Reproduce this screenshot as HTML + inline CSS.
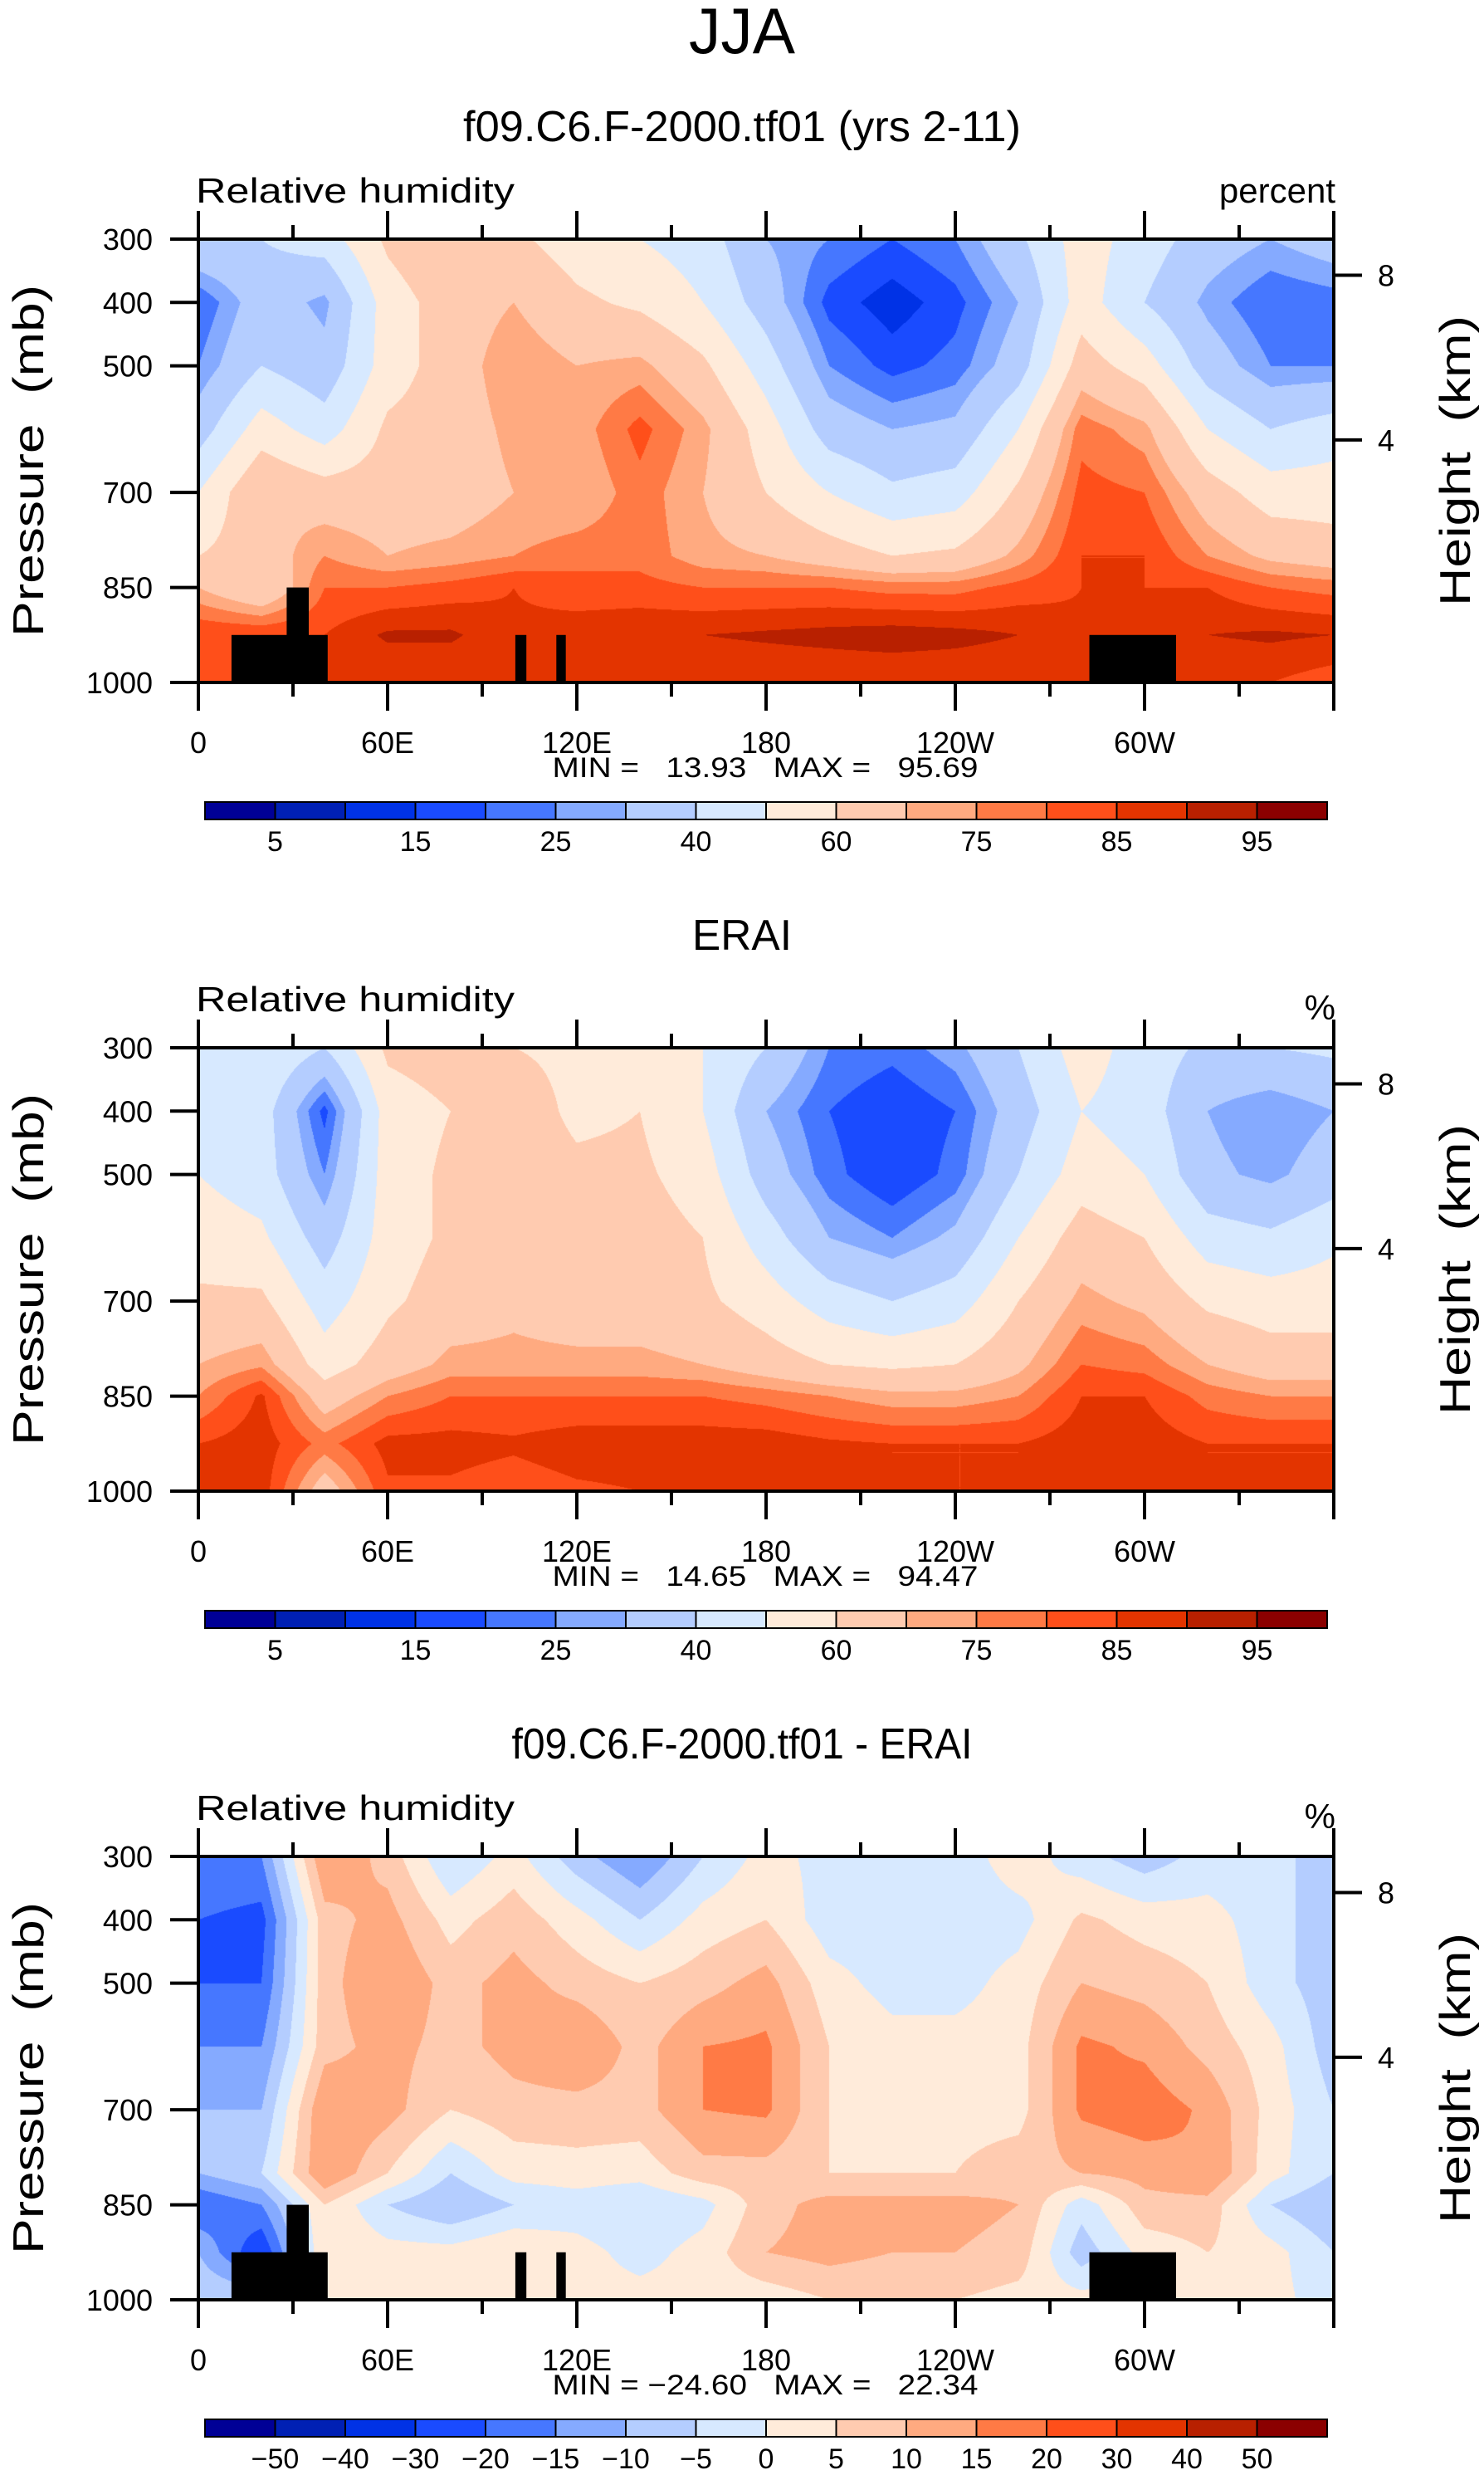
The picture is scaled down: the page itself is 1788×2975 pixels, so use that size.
<!DOCTYPE html>
<html><head><meta charset="utf-8">
<style>
html,body{margin:0;padding:0;background:#fff;}
#wrap{position:relative;width:1788px;height:2975px;overflow:hidden;background:#fff;}
canvas{position:absolute;}
svg{position:absolute;left:0;top:0;}
text{font-family:"Liberation Sans",sans-serif;fill:#000;white-space:pre;}
</style></head>
<body>
<div id="wrap">
<canvas id="c0"></canvas>
<canvas id="c1"></canvas>
<canvas id="c2"></canvas>
<svg id="svg" width="1788" height="2975" xmlns="http://www.w3.org/2000/svg">
<text x="894" y="64" font-size="78" text-anchor="middle" textLength="128" lengthAdjust="spacingAndGlyphs">JJA</text>
</svg>
</div>
<script>
// ---- data ----
const lons=[0,20,40,60,80,100,120,140,160,180,200,220,240,260,280,300,320,340,360];
const pLevels=[300,400,500,600,700,800,850,925,1000];
const rhLevels=[5,10,15,20,25,30,40,50,60,70,75,80,85,90,95];
const diffLevels=[-50,-40,-30,-20,-15,-10,-5,0,5,10,15,20,30,40,50];
const rhLabels=["5","","15","","25","","40","","60","","75","","85","","95"];
const diffLabels=["\u221250","\u221240","\u221230","\u221220","\u221215","\u221210","\u22125","0","5","10","15","20","30","40","50"];
const lonTickLabels=["0","60E","120E","180","120W","60W"];
const lonTickValues=[0,60,120,180,240,300];
const presTickValues=[300,400,500,700,850,1000];
const heightTickValues=[8,4];
const heightTickPres=[357,617];
const modelCols=[
[40,20,25,35,50,60,70,85,80],
[40,35,40,55,70,65,60,85,85],
[45,28,33,45,65,75,80,85,85],
[62,55,55,62,65,70,80,91,85],
[70,65,65,65,65,72,82,91,85],
[62,70,75,72,70,75,85,86,85],
[55,62,70,72,70,78,82,88,85],
[50,58,72,82,78,78,82,89,85],
[45,50,62,72,70,72,80,90,85],
[30,35,45,55,60,70,80,91,85],
[25,18,25,35,50,65,80,92,85],
[20,12,18,30,42,60,78,93,85],
[25,18,22,32,45,62,78,92,85],
[38,30,35,50,62,72,82,90,85],
[55,55,65,78,82,85,85,86,85],
[45,40,55,72,80,85,85,86,85],
[35,28,35,50,65,75,85,90,85],
[30,20,25,40,55,68,80,91,85],
[35,22,25,45,55,65,78,90,82]];
const eraiCols=[
[50,45,50,55,62,70,75,85,85],
[50,45,45,52,62,74,86,88,88],
[40,18,25,35,45,55,65,78,65],
[62,55,55,55,58,65,75,87,84],
[65,60,62,62,65,72,80,87,84],
[60,65,65,65,68,72,80,86,82],
[58,58,62,62,65,72,80,88,84],
[55,60,62,65,65,72,80,88,85],
[50,50,55,60,62,70,80,88,85],
[40,30,35,45,55,65,78,88,85],
[25,20,22,30,45,60,75,86,85],
[22,15,15,25,40,58,72,85,85],
[28,20,22,32,45,60,72,85,85],
[40,35,40,50,60,68,75,85,85],
[55,50,55,65,72,80,85,88,86],
[45,45,50,60,68,78,85,88,88],
[38,30,32,45,58,70,78,85,85],
[40,25,28,42,55,65,75,85,85],
[42,30,35,48,55,65,75,85,85]];
const diffCols=[
[-15,-20,-20,-15,-10,-10,-20,-10,-5],
[-15,-22,-20,-15,-10,-5,-15,-25,-5],
[15,8,8,8,15,15,5,5,5],
[8,12,15,12,12,5,-5,2,2],
[-5,3,8,8,5,-5,-10,2,2],
[2,8,12,12,8,2,-5,5,5],
[-8,2,8,15,8,3,-3,2,2],
[-15,-5,5,8,8,2,-5,-2,2],
[-5,2,8,15,15,8,-2,2,2],
[2,5,12,16,16,8,8,10,2],
[-2,-3,2,5,5,5,12,12,5],
[-3,-3,-2,2,3,5,12,10,5],
[-3,-3,-2,2,3,5,12,10,5],
[3,-2,2,3,3,8,10,8,3],
[-3,6,10,16,16,10,-3,-8,2],
[-8,3,8,14,18,12,8,2,2],
[-3,2,5,8,14,15,8,5,3],
[-3,-3,-3,2,3,2,-5,2,2],
[-8,-8,-8,-8,-5,-5,-10,-5,-3]];
const landLon0=[10.5,28,100.5,113.5,282.5];
const landLon1=[41,35,104,116.5,310];
const landTop=[925,850,925,925,925];
const colors=["#000096","#0020b4","#0032e6","#1a4bff","#4677ff","#85aaff","#b4cdff","#d7e9ff","#ffebda","#ffcbb0","#ffaa80","#ff7a45","#ff4f1a","#e33400","#b82000","#8b0000"];

// ---- layout ----
const PX=239, PW=1368, PH=534;
const panelTop=[288,1262,2236];
const titles=["f09.C6.F-2000.tf01 (yrs 2-11)","ERAI","f09.C6.F-2000.tf01 - ERAI"];
const titleLen=[672,120,555];
const units=["percent","%","%"];
const minmax=["MIN =   13.93   MAX =   95.69","MIN =   14.65   MAX =   94.47","MIN = \u221224.60   MAX =   22.34"];
const xLon=l=>PX+l/360*PW;
const yP=(p,t)=>t+(p-300)/700*PH;

function hexToRgb(h){return [parseInt(h.substr(1,2),16),parseInt(h.substr(3,2),16),parseInt(h.substr(5,2),16)];}
const rgb=colors.map(hexToRgb);

function drawField(id,cols,levels,top){
  const cv=document.getElementById(id);
  cv.width=PW;cv.height=PH;cv.style.left=PX+"px";cv.style.top=top+"px";
  const ctx=cv.getContext('2d');const img=ctx.createImageData(PW,PH);const d=img.data;
  const rowIdx=[],rowF=[];
  for(let y=0;y<PH;y++){
    const p=300+(y+0.5)/PH*700;let k=0;
    while(k<pLevels.length-2&&p>pLevels[k+1])k++;
    rowIdx.push(k);rowF.push((p-pLevels[k])/(pLevels[k+1]-pLevels[k]));
  }
  for(let x=0;x<PW;x++){
    const lon=(x+0.5)/PW*360;let i=Math.min(Math.floor(lon/20),lons.length-2);
    const fx=(lon-lons[i])/(lons[i+1]-lons[i]);
    const a=cols[i],b=cols[i+1];
    for(let y=0;y<PH;y++){
      const k=rowIdx[y],fy=rowF[y];
      const v=(a[k]*(1-fx)+b[k]*fx)*(1-fy)+(a[k+1]*(1-fx)+b[k+1]*fx)*fy;
      let c=0;while(c<levels.length&&v>=levels[c])c++;
      const col=rgb[c];const o=(y*PW+x)*4;
      d[o]=col[0];d[o+1]=col[1];d[o+2]=col[2];d[o+3]=255;
    }
  }
  ctx.putImageData(img,0,0);
}
drawField('c0',modelCols,rhLevels,panelTop[0]);
drawField('c1',eraiCols,rhLevels,panelTop[1]);
drawField('c2',diffCols,diffLevels,panelTop[2]);

const svg=document.getElementById('svg');const NS="http://www.w3.org/2000/svg";
function el(tag,attrs,parent){const e=document.createElementNS(NS,tag);for(const k in attrs)e.setAttribute(k,attrs[k]);(parent||svg).appendChild(e);return e;}
function txt(x,y,s,size,anchor,parent){const t=el('text',{x:x,y:y,'font-size':size,'text-anchor':anchor||'start'},parent);t.textContent=s;return t;}

for(let p=0;p<3;p++){
  const T=panelTop[p];
  const g=el('g',{});
  
  
  const tt=txt(894,T-118,titles[p],52,'middle',g);
  tt.setAttribute('textLength',titleLen[p]);tt.setAttribute('lengthAdjust','spacingAndGlyphs');
  
  
  const vt=txt(236,T-44,"Relative humidity",42,'start',g);
  vt.setAttribute('textLength',384);vt.setAttribute('lengthAdjust','spacingAndGlyphs');
  
  
  const ut=txt(1609,T-(p===0?44:34),units[p],42,'end',g);
  
  
  for(let j=0;j<landLon0.length;j++){
    if(p===1)break;
    const r=el('rect',{x:xLon(landLon0[j]),y:yP(landTop[j],T),width:xLon(landLon1[j])-xLon(landLon0[j]),height:yP(1000,T)-yP(landTop[j],T),fill:'#000'},g);
    
    
  }
  const fr=el('rect',{x:PX,y:T,width:PW,height:PH,fill:'none',stroke:'#000','stroke-width':4},g);
  
  
  for(let l=0;l<=360;l+=30){
    const major=l%60===0;const x=xLon(l);const len=major?34:17;
    el('line',{x1:x,y1:T,x2:x,y2:T-len,stroke:'#000','stroke-width':4},g);
    el('line',{x1:x,y1:T+PH,x2:x,y2:T+PH+len,stroke:'#000','stroke-width':4},g);
  }
  for(let j=0;j<lonTickValues.length;j++){
    const t=txt(xLon(lonTickValues[j]),T+619,lonTickLabels[j],36,'middle',g);
    
    
  }
  for(let j=0;j<presTickValues.length;j++){
    const y=yP(presTickValues[j],T);
    el('line',{x1:PX,y1:y,x2:PX-34,y2:y,stroke:'#000','stroke-width':4},g);
    const t=txt(184,y+13,String(presTickValues[j]),36,'end',g);
    
    
  }
  for(let j=0;j<heightTickValues.length;j++){
    const y=yP(heightTickPres[j],T);
    el('line',{x1:PX+PW,y1:y,x2:PX+PW+34,y2:y,stroke:'#000','stroke-width':4},g);
    const t=txt(1660,y+13,String(heightTickValues[j]),36,'start',g);
    
    
  }
  const yl=txt(0,0,"Pressure  (mb)",52,'middle',g);
  yl.setAttribute('transform','translate(52,'+(T+PH/2)+') rotate(-90)');
  yl.setAttribute('textLength',424);yl.setAttribute('lengthAdjust','spacingAndGlyphs');
  
  
  const yr=txt(0,0,"Height  (km)",52,'middle',g);
  yr.setAttribute('transform','translate(1771,'+(T+PH/2)+') rotate(-90)');
  yr.setAttribute('textLength',350);yr.setAttribute('lengthAdjust','spacingAndGlyphs');
  
  
  const mm=txt(922,T+648,minmax[p],34,'middle',g);
  mm.setAttribute('textLength',513);mm.setAttribute('lengthAdjust','spacingAndGlyphs');
  
  
  const cb=el('g',{},g);
  
  
  const cx0=247,cw=(1599-247)/16,cy=T+678,ch=21;
  for(let j=0;j<16;j++){
    const r=el('rect',{x:cx0+j*cw,y:cy,width:cw,height:ch,fill:colors[j],stroke:'#000','stroke-width':2},cb);
    
    
  }
  const labs=p===2?diffLabels:rhLabels;
  for(let j=0;j<labs.length;j++){
    if(!labs[j])continue;
    const t=txt(cx0+(j+1)*cw,T+737,labs[j],34,'middle',cb);
    
    
  }
}
</script>
</body></html>
